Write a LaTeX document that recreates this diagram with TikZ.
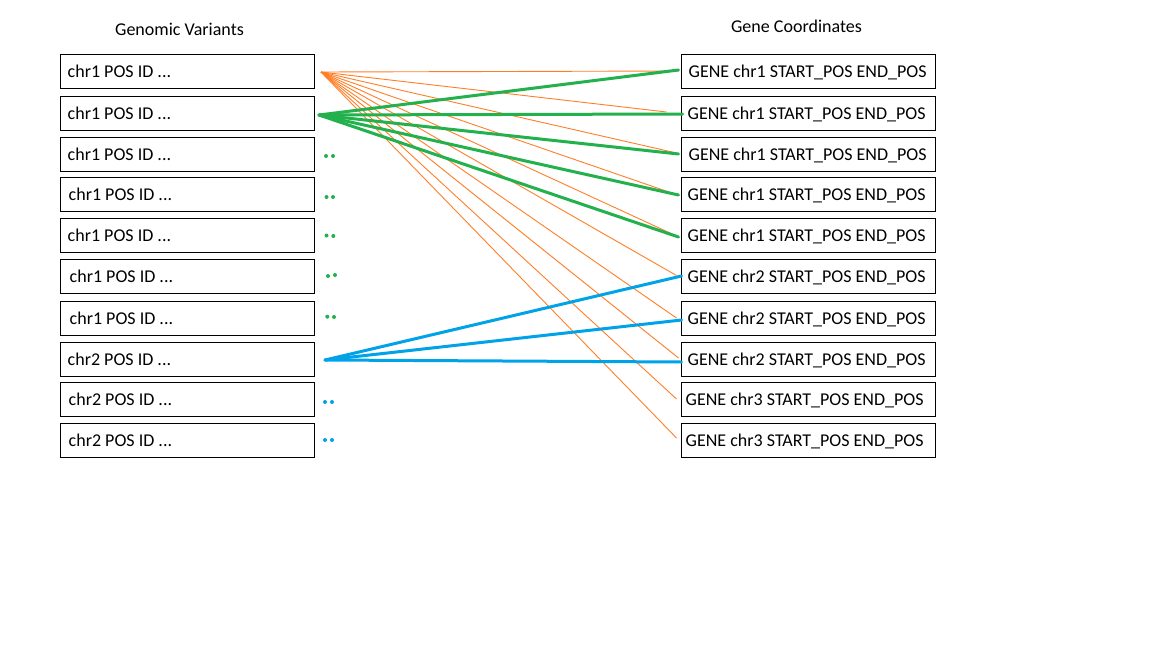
\documentclass[tikz,border=0pt]{standalone}
\usepackage{fontspec}
\setmainfont{Carlito}
\usetikzlibrary{calc}
\definecolor{orl}{HTML}{FF7F27}
\definecolor{grl}{HTML}{22B14C}
\definecolor{bll}{HTML}{00A2E8}
\begin{document}
\begin{tikzpicture}[x=1pt,y=-1pt,
  box/.style={draw=black,line width=1pt,minimum width=254pt,minimum height=34pt,inner sep=0pt},
  txt/.style={inner sep=0pt,anchor=base west,font=\fontsize{18}{21}\selectfont},
  ttl/.style={inner sep=0pt,anchor=base,font=\fontsize{18}{21}\selectfont},
  oline/.style={draw=orl,line width=0.9pt},
  gline/.style={draw=grl,line width=3pt,line cap=round},
  bline/.style={draw=bll,line width=3pt,line cap=round},
  gdot/.style={fill=grl,draw=none},
  bdot/.style={fill=bll,draw=none}]
\useasboundingbox (0,0) rectangle (1152,648);
\fill[white] (0,0) rectangle (1152,648);
% titles
\node[ttl] (t1) at (179.5,35) {Genomic Variants};
\node[ttl] (t2) at (796.5,32.5) {Gene Coordinates};
% boxes
\foreach \i/\c in {1/71,2/113,3/154,4/194,5/235,6/276,7/318,8/359,9/399,10/440}{
  \node[box] (l\i) at (187,\c) {};
  \node[box] (r\i) at (808,\c) {};
}
\foreach \i/\dx/\t in {1/8/chr1,2/8/chr1,3/8/chr1,4/9/chr1,5/8/chr1,6/10/chr1,7/10/chr1,8/8/chr2,9/9/chr2,10/9/chr2}{
  \node[txt] (lt\i) at ($(l\i.north west)+(\dx,24)$) {\t{} POS ID ...};
}
\foreach \i/\dx/\t in {1/8/chr1,2/7/chr1,3/8/chr1,4/7/chr1,5/7/chr1,6/7/chr2,7/7/chr2,8/7/chr2,9/5/chr3,10/5/chr3}{
  \node[txt] (rt\i) at ($(r\i.north west)+(\dx,24)$) {GENE \t{} START\_POS END\_POS};
}
% start coordinates
\coordinate (o) at (321,72);
\coordinate (g) at (319,115);
\coordinate (b) at (325,360);
% orange lines
\foreach \i/\ox/\oy in {1/-2/0,2/-14/-1,3/-4/-1,4/-3/1,5/-4/1,6/-4/-0.5,7/-4/0,8/-2/-1,9/-4/0,10/-4/-2}{
  \draw[oline] (o) -- ($(r\i.west)+(\ox,\oy)$);
}
% green lines
\foreach \i/\ox/\oy in {1/-2/-1,2/2/1,3/-2/0,4/-2/1,5/-2/2}{
  \draw[gline] (g) -- ($(r\i.west)+(\ox,\oy)$);
}
% blue lines
\foreach \i/\ox/\oy in {6/1/0,7/1/2,8/1/3}{
  \draw[bline] (b) -- ($(r\i.west)+(\ox,\oy)$);
}
% dots
\foreach \x/\y in {326/156,333/156,326.5/197,333/197,326.5/235.5,333.3/236,328/276,335/275,327.3/316.7,334/317}{
  \fill[gdot] (\x,\y) circle (2);
}
\foreach \x/\y in {325/402,332/402,325/440,332/440}{
  \fill[bdot] (\x,\y) circle (2);
}
\end{tikzpicture}
\end{document}
